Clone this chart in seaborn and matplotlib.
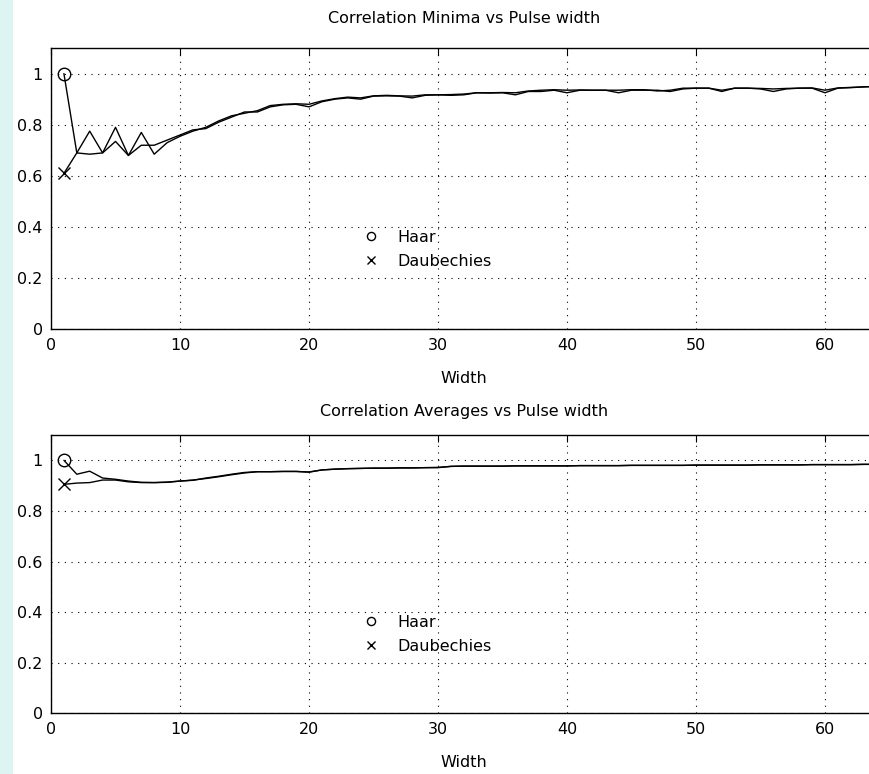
import numpy as np
import pandas as pd
import seaborn as sns
import matplotlib.pyplot as plt
from matplotlib.patches import Rectangle

# pulse widths 1..64
widths = list(range(1, 65))

haar_min = [1.00, 0.69, 0.685, 0.69, 0.735, 0.68, 0.72, 0.72, 0.74, 0.76,
            0.78, 0.785, 0.81, 0.83, 0.85, 0.85, 0.87, 0.878, 0.88, 0.87,
            0.89, 0.90, 0.905, 0.90, 0.912, 0.913, 0.912, 0.905, 0.915, 0.917,
            0.915, 0.917, 0.925, 0.924, 0.925, 0.917, 0.93, 0.93, 0.935, 0.925,
            0.935, 0.935, 0.935, 0.925, 0.935, 0.935, 0.935, 0.93, 0.94, 0.943,
            0.943, 0.93, 0.943, 0.943, 0.94, 0.93, 0.94, 0.943, 0.943, 0.925,
            0.943, 0.945, 0.948, 0.95]
daub_min = [0.61, 0.69, 0.775, 0.69, 0.79, 0.68, 0.77, 0.685, 0.73, 0.755,
            0.775, 0.79, 0.815, 0.835, 0.845, 0.855, 0.875, 0.88, 0.882, 0.88,
            0.893, 0.902, 0.908, 0.905, 0.913, 0.915, 0.913, 0.912, 0.917, 0.917,
            0.918, 0.92, 0.925, 0.925, 0.926, 0.925, 0.932, 0.935, 0.937, 0.935,
            0.936, 0.935, 0.935, 0.935, 0.937, 0.937, 0.932, 0.935, 0.943, 0.943,
            0.943, 0.935, 0.943, 0.943, 0.942, 0.94, 0.942, 0.943, 0.944, 0.935,
            0.944, 0.946, 0.948, 0.95]

haar_avg = [1.00, 0.945, 0.957, 0.93, 0.925, 0.918, 0.913, 0.912, 0.913, 0.918,
            0.922, 0.928, 0.935, 0.943, 0.95, 0.955, 0.955, 0.956, 0.956, 0.953,
            0.962, 0.965, 0.967, 0.968, 0.969, 0.969, 0.970, 0.970, 0.971, 0.971,
            0.976, 0.977, 0.977, 0.977, 0.977, 0.978, 0.978, 0.978, 0.978, 0.978,
            0.979, 0.979, 0.979, 0.979, 0.980, 0.980, 0.980, 0.980, 0.980, 0.981,
            0.981, 0.981, 0.981, 0.981, 0.982, 0.982, 0.982, 0.982, 0.983, 0.983,
            0.983, 0.983, 0.984, 0.984]
daub_avg = [0.905, 0.91, 0.912, 0.922, 0.922, 0.915, 0.912, 0.912, 0.914, 0.918,
            0.921, 0.93, 0.937, 0.945, 0.952, 0.955, 0.955, 0.956, 0.956, 0.954,
            0.962, 0.965, 0.967, 0.968, 0.969, 0.969, 0.970, 0.970, 0.971, 0.972,
            0.976, 0.977, 0.977, 0.977, 0.977, 0.978, 0.978, 0.978, 0.978, 0.978,
            0.979, 0.979, 0.979, 0.979, 0.980, 0.980, 0.980, 0.980, 0.980, 0.981,
            0.981, 0.981, 0.981, 0.981, 0.982, 0.982, 0.982, 0.982, 0.983, 0.983,
            0.983, 0.983, 0.984, 0.984]

sns.set_style('white')
plt.rcParams['font.family'] = ['DejaVu Sans']
plt.rcParams['text.color'] = 'black'
plt.rcParams['axes.labelcolor'] = 'black'

fig = plt.figure(figsize=(8.69, 7.74), dpi=100)
fig.patches.append(Rectangle((0, 0), 13 / 869, 1, transform=fig.transFigure,
                             facecolor='#dcf5f2', edgecolor='none', zorder=-1))

ax1 = fig.add_axes([0.0587, 0.5743, 0.950, 0.3637])
ax2 = fig.add_axes([0.0587, 0.0782, 0.950, 0.3598])


def draw(ax, haar, daub, title, tpad):
    df = pd.DataFrame({'w': widths, 'haar': haar, 'daub': daub})
    sns.lineplot(data=df, x='w', y='haar', color='black', lw=1.0, ax=ax)
    sns.lineplot(data=df, x='w', y='daub', color='black', lw=1.0, ax=ax)
    ax.plot(df['w'][:1], df['haar'][:1], 'o', ms=9, mfc='none', mec='black',
            mew=1.0, label='Haar')
    ax.plot(df['w'][:1], df['daub'][:1], 'x', ms=8, color='black',
            mew=1.0, label='Daubechies')
    ax.set_xlim(0, 64)
    ax.set_ylim(0, 1.1)
    ax.set_xticks([0, 10, 20, 30, 40, 50, 60])
    ax.set_yticks([0, 0.2, 0.4, 0.6, 0.8, 1])
    ax.set_yticklabels(['0', '0.2', '0.4', '0.6', '0.8', '1'])
    ax.grid(True, color='black', linestyle=(0, (1, 5)), lw=0.8)
    ax.tick_params(direction='in', top=True, right=True, length=5,
                   labelsize=11.5, colors='black', pad=6)
    for s in ax.spines.values():
        s.set_color('black')
        s.set_linewidth(1.0)
    ax.set_xlabel('Width', fontsize=11.5, labelpad=13)
    ax.set_ylabel('')
    ax.set_title(title, fontsize=11.5, pad=tpad, color='black')
    ax.legend(loc='upper left', bbox_to_anchor=(0.36, 0.405), frameon=False,
              fontsize=11.5, handletextpad=1.2, labelspacing=0.55,
              handlelength=1.0, markerscale=0.65)


draw(ax1, haar_min, daub_min, 'Correlation Minima vs Pulse width', 18)
draw(ax2, haar_avg, daub_avg, 'Correlation Averages vs Pulse width', 14)

plt.savefig('out.png', dpi=100)
